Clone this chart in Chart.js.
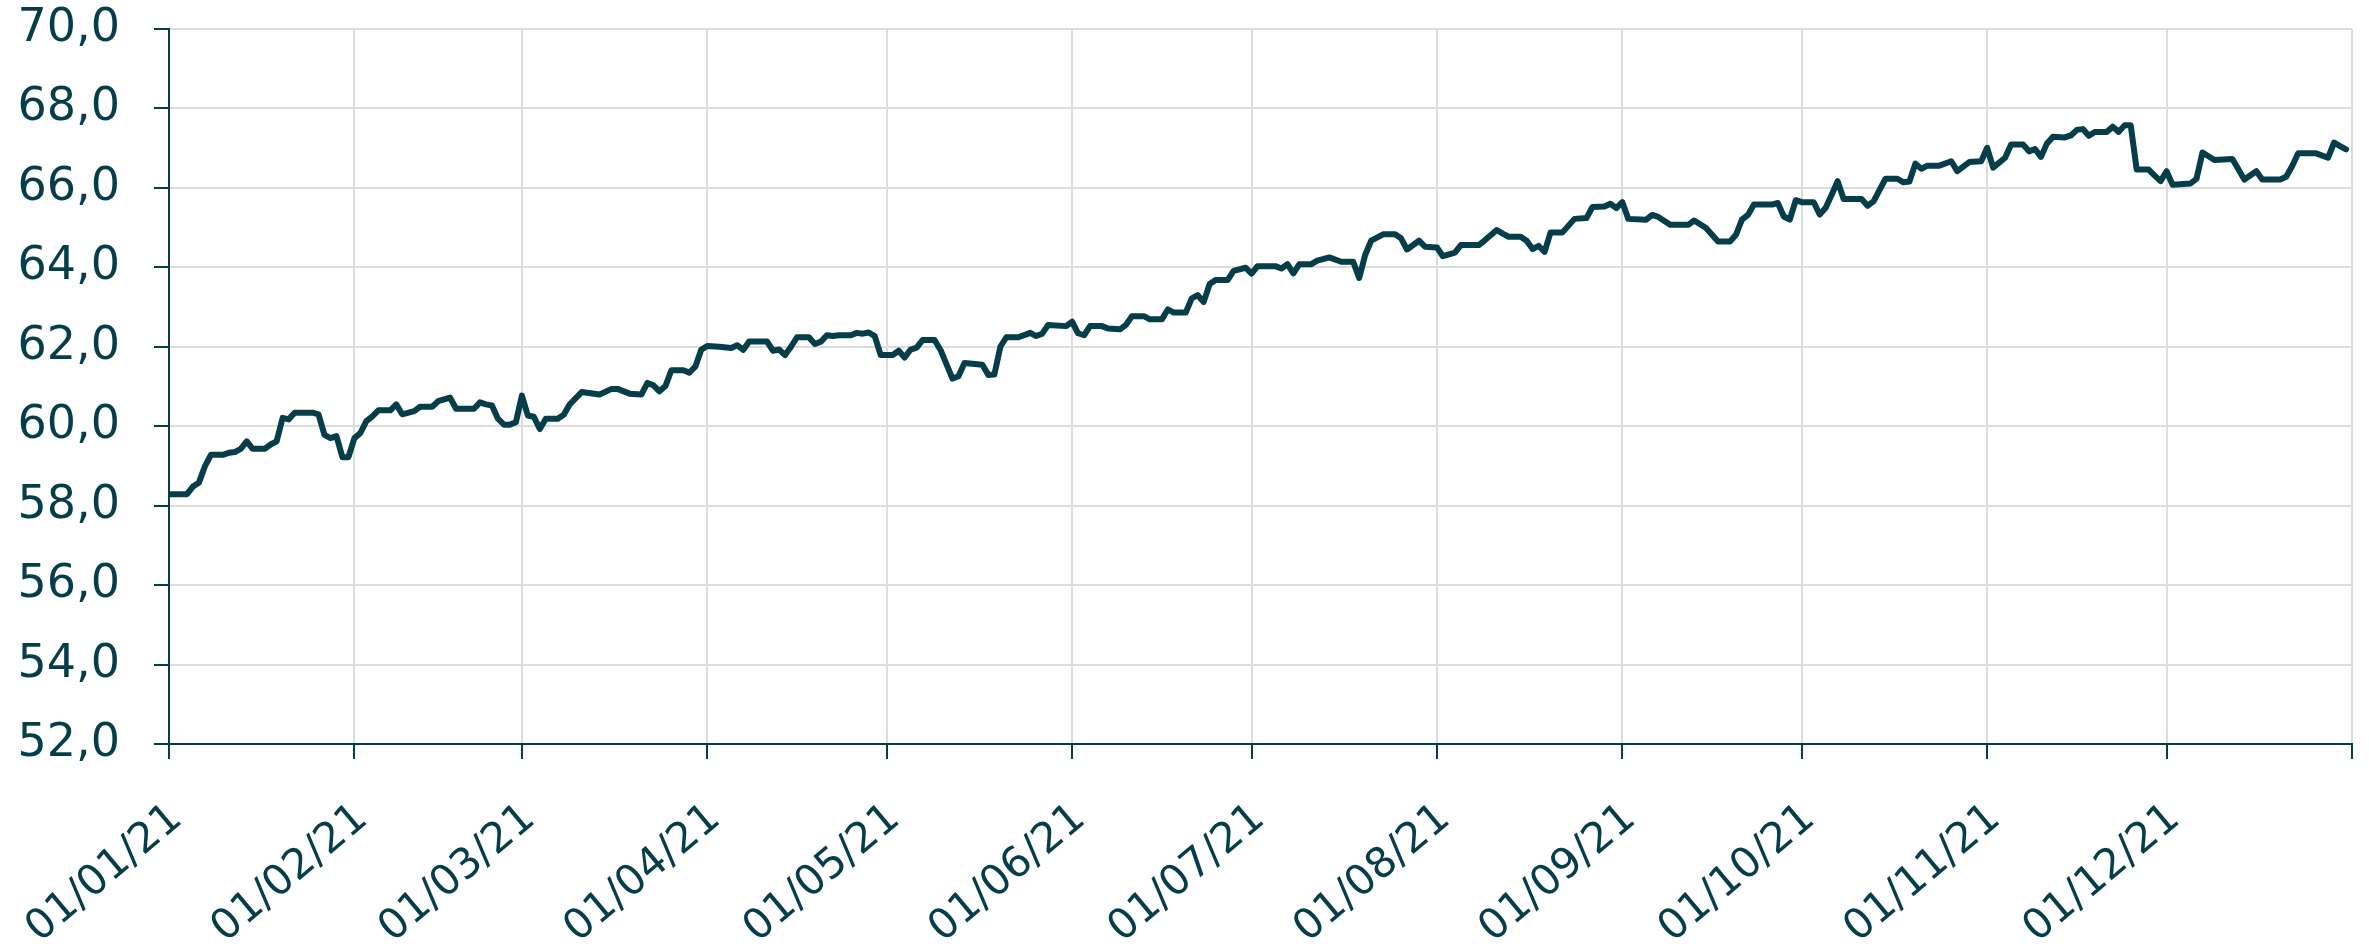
<!DOCTYPE html>
<html lang="en">
<head>
<meta charset="utf-8" />
<title>Index 2021</title>
<script src="https://cdn.jsdelivr.net/npm/chart.js@4.4.0/dist/chart.umd.min.js"></script>
<style>
  body { margin: 0; background: #fff; }
</style>
</head>
<body>
<canvas id="chart" width="2369" height="946"></canvas>
<script>
// day of year (0 = 01/01/21) of each point
var dayOfYear = [
  0, 3, 4, 5, 6, 7, 9, 10, 11, 12, 13, 14, 16, 17, 18, 19, 20, 21, 24, 25,
  26, 27, 28, 29, 30, 31, 32, 33, 34, 35, 37, 38, 39, 41, 42, 44, 45, 47, 48, 51,
  52, 53, 54, 55, 56, 57, 58, 59, 60, 61, 62, 63, 65, 66, 67, 69, 72, 74, 75, 77,
  79, 80, 81, 82, 83, 84, 86, 87, 88, 89, 90, 92, 94, 95, 96, 97, 100, 101, 102, 103,
  104, 105, 107, 108, 109, 110, 111, 112, 114, 115, 116, 117, 118, 119, 121, 122, 123, 124, 125, 126,
  128, 129, 131, 132, 133, 136, 137, 138, 139, 140, 142, 144, 145, 146, 147, 150, 151, 152, 153, 154,
  156, 157, 159, 160, 161, 163, 164, 166, 167, 168, 170, 171, 172, 173, 174, 175, 177, 178, 180, 181,
  182, 185, 186, 187, 188, 189, 191, 192, 194, 196, 198, 199, 200, 201, 203, 205, 206, 207, 209, 210,
  212, 213, 215, 216, 219, 220, 222, 223, 224, 226, 227, 228, 229, 230, 231, 233, 235, 237, 238, 240,
  241, 242, 243, 244, 247, 248, 249, 251, 254, 255, 257, 259, 261, 262, 263, 264, 265, 268, 269, 270,
  271, 272, 273, 275, 276, 277, 278, 279, 280, 283, 284, 285, 287, 289, 290, 291, 292, 293, 294, 296,
  298, 299, 301, 303, 304, 305, 307, 308, 310, 311, 312, 313, 314, 315, 317, 318, 319, 320, 321, 322,
  324, 325, 326, 327, 328, 329, 331, 332, 333, 334, 335, 338, 339, 340, 342, 345, 347, 349, 350, 353,
  354, 355, 356, 359, 361, 362, 363, 364
];
var values = [
  58.29, 58.29, 58.48, 58.58, 58.99, 59.28, 59.28, 59.33, 59.35, 59.43, 59.62, 59.43, 59.43, 59.54, 59.62, 60.21, 60.17, 60.34, 60.34, 60.30,
  59.78, 59.70, 59.75, 59.22, 59.22, 59.70, 59.83, 60.13, 60.25, 60.40, 60.40, 60.55, 60.30, 60.38, 60.49, 60.49, 60.63, 60.72, 60.44, 60.44,
  60.60, 60.55, 60.52, 60.19, 60.04, 60.04, 60.10, 60.77, 60.27, 60.24, 59.93, 60.19, 60.19, 60.29, 60.55, 60.86, 60.80, 60.94, 60.94, 60.82,
  60.80, 61.09, 61.03, 60.88, 61.01, 61.41, 61.41, 61.35, 61.50, 61.93, 62.02, 62.00, 61.97, 62.04, 61.92, 62.13, 62.13, 61.90, 61.93, 61.79,
  62.00, 62.24, 62.24, 62.07, 62.13, 62.29, 62.27, 62.29, 62.29, 62.35, 62.33, 62.36, 62.27, 61.79, 61.79, 61.90, 61.73, 61.93, 61.98, 62.17,
  62.17, 61.92, 61.20, 61.26, 61.59, 61.55, 61.29, 61.30, 62.00, 62.24, 62.24, 62.35, 62.27, 62.33, 62.55, 62.52, 62.63, 62.34, 62.29, 62.52,
  62.52, 62.46, 62.44, 62.55, 62.77, 62.77, 62.69, 62.69, 62.94, 62.86, 62.86, 63.22, 63.30, 63.13, 63.58, 63.68, 63.68, 63.91, 63.99, 63.84,
  64.03, 64.03, 63.97, 64.08, 63.85, 64.08, 64.08, 64.17, 64.25, 64.14, 64.14, 63.73, 64.31, 64.67, 64.83, 64.83, 64.73, 64.45, 64.67, 64.52,
  64.50, 64.28, 64.37, 64.56, 64.56, 64.68, 64.94, 64.85, 64.77, 64.77, 64.67, 64.46, 64.54, 64.39, 64.88, 64.88, 65.22, 65.24, 65.52, 65.53,
  65.60, 65.49, 65.64, 65.22, 65.20, 65.32, 65.27, 65.07, 65.07, 65.18, 64.99, 64.65, 64.65, 64.82, 65.20, 65.32, 65.58, 65.58, 65.62, 65.28,
  65.20, 65.69, 65.64, 65.64, 65.33, 65.50, 65.83, 66.17, 65.72, 65.72, 65.55, 65.66, 66.23, 66.23, 66.14, 66.16, 66.61, 66.48, 66.56, 66.56,
  66.67, 66.42, 66.65, 66.67, 67.01, 66.51, 66.76, 67.09, 67.09, 66.92, 66.98, 66.78, 67.12, 67.29, 67.27, 67.32, 67.46, 67.48, 67.31, 67.41,
  67.41, 67.54, 67.41, 67.58, 67.58, 66.46, 66.46, 66.31, 66.17, 66.42, 66.08, 66.11, 66.23, 66.89, 66.70, 66.73, 66.21, 66.42, 66.21, 66.21,
  66.28, 66.55, 66.87, 66.87, 66.76, 67.14, 67.05, 66.97
];

var monthStarts = [0, 31, 59, 90, 120, 151, 181, 212, 243, 273, 304, 334, 365];
var monthLabels = ['01/01/21', '01/02/21', '01/03/21', '01/04/21', '01/05/21', '01/06/21',
                   '01/07/21', '01/08/21', '01/09/21', '01/10/21', '01/11/21', '01/12/21', ''];
var yMin = 52, yMax = 70, yStep = 2;

var dark = '#063d4a';
var gridGrey = '#dcdcdc';
var yFont = { family: 'DejaVu Sans', size: 46 };
var xFont = { family: 'DejaVu Sans', size: 42 };

var points = dayOfYear.map(function (d, i) { return { x: d, y: values[i] }; });

var ctx = document.getElementById('chart').getContext('2d');
var chart = new Chart(ctx, {
  type: 'line',
  data: {
    datasets: [{
      data: points,
      borderColor: dark,
      borderWidth: 6,
      borderJoinStyle: 'round',
      borderCapStyle: 'round',
      pointRadius: 0,
      tension: 0,
      fill: false
    }]
  },
  options: {
    responsive: false,
    animation: false,
    parsing: false,
    layout: { padding: { top: 29, right: 17, bottom: 0, left: 0 } },
    plugins: { legend: { display: false }, tooltip: { enabled: false } },
    scales: {
      x: {
        type: 'linear',
        min: 0,
        max: 365,
        afterBuildTicks: function (scale) {
          scale.ticks = monthStarts.map(function (v) { return { value: v }; });
        },
        afterFit: function (scale) {
          scale.height = 202;
          scale.paddingLeft = 0;
          scale.paddingRight = 0;
        },
        ticks: {
          autoSkip: false,
          minRotation: 40,
          maxRotation: 40,
          padding: 35,
          labelOffset: 8,
          color: dark,
          font: xFont,
          callback: function (v, i) { return monthLabels[i]; }
        },
        grid: { color: gridGrey, lineWidth: 2, tickLength: 15, tickColor: dark, tickWidth: 2 },
        border: { color: dark, width: 2 }
      },
      y: {
        min: yMin,
        max: yMax,
        afterFit: function (scale) {
          scale.width = 169;
          scale.paddingTop = 0;
          scale.paddingBottom = 0;
        },
        ticks: {
          stepSize: yStep,
          padding: 34,
          color: dark,
          font: yFont,
          callback: function (v) { return v.toFixed(1).replace('.', ','); }
        },
        grid: { color: gridGrey, lineWidth: 2, tickLength: 15, tickColor: dark, tickWidth: 2 },
        border: { color: dark, width: 2 }
      }
    }
  }
});
</script>
</body>
</html>
